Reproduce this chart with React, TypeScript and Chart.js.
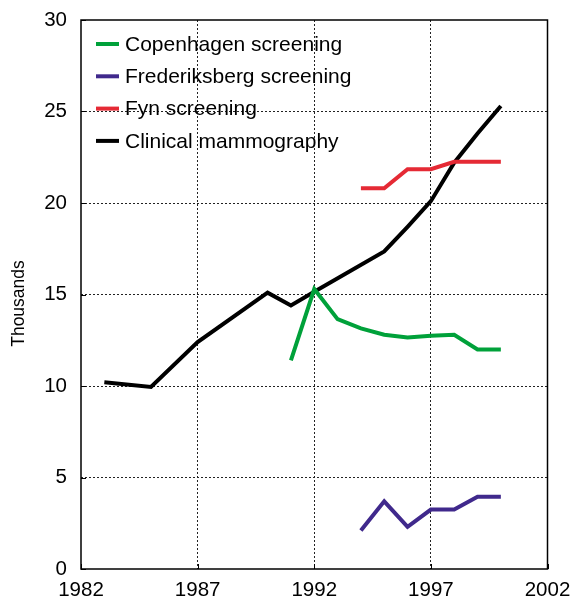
import React, { useEffect, useRef } from "react";
import { Chart, registerables } from "chart.js";

Chart.register(...registerables);

const xTicks = [1982, 1987, 1992, 1997, 2002];
const yTicks = [0, 5, 10, 15, 20, 25, 30];

const copenhagenYears = [1991, 1992, 1993, 1994, 1995, 1996, 1997, 1998, 1999, 2000];
const copenhagenValues = [11.4, 15.3, 13.65, 13.15, 12.8, 12.65, 12.75, 12.8, 12.0, 12.0];

const frederiksbergYears = [1994, 1995, 1996, 1997, 1998, 1999, 2000];
const frederiksbergValues = [2.1, 3.7, 2.3, 3.25, 3.25, 3.95, 3.95];

const fynYears = [1994, 1995, 1996, 1997, 1998, 1999, 2000];
const fynValues = [20.8, 20.8, 21.85, 21.85, 22.25, 22.25, 22.25];

const clinicalYears = [1983, 1985, 1987, 1990, 1991, 1992, 1995, 1996, 1997, 1998, 1999, 2000];
const clinicalValues = [10.2, 9.95, 12.4, 15.1, 14.4, 15.15, 17.35, 18.7, 20.1, 22.2, 23.8, 25.3];

const seriesLabels = [
  "Copenhagen screening",
  "Frederiksberg screening",
  "Fyn screening",
  "Clinical mammography",
];
const seriesColors = ["#00a13a", "#40298c", "#e52a35", "#000000"];
const yTitle = "Thousands";

const FONT = "'Liberation Sans', Arial, Helvetica, sans-serif";

function pts(xs: number[], ys: number[]) {
  return xs.map((x, i) => ({ x, y: ys[i] }));
}

export default function App() {
  const ref = useRef<HTMLCanvasElement>(null);

  useEffect(() => {
    if (!ref.current) return;

    const framePlugin = {
      id: "frame",
      afterDatasetsDraw(chart: any) {
        const { ctx, chartArea } = chart;
        const xs = chart.scales.x;
        const ys = chart.scales.y;
        ctx.save();
        // box
        ctx.strokeStyle = "#000";
        ctx.lineWidth = 1.5;
        ctx.setLineDash([]);
        ctx.strokeRect(chartArea.left, chartArea.top, chartArea.right - chartArea.left, chartArea.bottom - chartArea.top);
        // inward ticks
        ctx.lineWidth = 1;
        ctx.beginPath();
        xTicks.forEach((v) => {
          const px = Math.round(xs.getPixelForValue(v)) + 0.5;
          ctx.moveTo(px, chartArea.bottom);
          ctx.lineTo(px, chartArea.bottom - 5);
        });
        yTicks.forEach((v) => {
          const py = Math.round(ys.getPixelForValue(v)) + 0.5;
          ctx.moveTo(chartArea.left, py);
          ctx.lineTo(chartArea.left + 5, py);
        });
        ctx.stroke();

        // legend
        const lx = chartArea.left + 15;
        const ly = chartArea.top + 24;
        const step = 32.3;
        ctx.font = `21px ${FONT}`;
        ctx.textBaseline = "middle";
        ctx.textAlign = "left";
        seriesLabels.forEach((label, i) => {
          const y = ly + i * step;
          ctx.strokeStyle = seriesColors[i];
          ctx.lineWidth = 4;
          ctx.beginPath();
          ctx.moveTo(lx, y);
          ctx.lineTo(lx + 23, y);
          ctx.stroke();
          ctx.fillStyle = "#000";
          ctx.fillText(label, lx + 29, y + 1);
        });

        // y title
        ctx.save();
        ctx.translate(19, (chartArea.top + chartArea.bottom) / 2 + 9);
        ctx.rotate(-Math.PI / 2);
        ctx.font = `17.5px ${FONT}`;
        ctx.textAlign = "center";
        ctx.textBaseline = "middle";
        ctx.fillStyle = "#000";
        ctx.fillText(yTitle, 0, 0);
        ctx.restore();

        ctx.restore();
      },
    };

    const mk = (i: number, xs: number[], ys: number[]) => ({
      label: seriesLabels[i],
      data: pts(xs, ys),
      borderColor: seriesColors[i],
      backgroundColor: seriesColors[i],
      borderWidth: 4,
      pointRadius: 0,
      tension: 0,
      fill: false,
      borderJoinStyle: "miter" as const,
      borderCapStyle: "butt" as const,
    });

    const gridColor = (ctx: any, edges: number[]) =>
      edges.includes(ctx.tick?.value) ? "rgba(0,0,0,0)" : "#222";

    const chart = new Chart(ref.current, {
      type: "line",
      data: {
        datasets: [
          mk(0, copenhagenYears, copenhagenValues),
          mk(1, frederiksbergYears, frederiksbergValues),
          mk(2, fynYears, fynValues),
          mk(3, clinicalYears, clinicalValues),
        ],
      },
      options: {
        animation: false,
        responsive: false,
        maintainAspectRatio: false,
        layout: { padding: { left: 0, top: 20, right: 23.5, bottom: 0 } },
        plugins: {
          legend: { display: false },
          tooltip: { enabled: false },
          title: { display: false },
        },
        scales: {
          x: {
            type: "linear",
            min: 1982,
            max: 2002,
            afterBuildTicks: (s: any) => {
              s.ticks = xTicks.map((v) => ({ value: v }));
            },
            afterFit: (s: any) => {
              s.height = 32;
              s.paddingLeft = 0;
              s.paddingRight = 0;
            },
            ticks: {
              callback: (v: any) => String(v),
              color: "#000",
              font: { family: FONT, size: 20.5 },
              padding: 9,
              maxRotation: 0,
            },
            grid: {
              drawTicks: false,
              color: (ctx: any) => gridColor(ctx, [1982, 2002]),
              lineWidth: 1,
            },
            border: { display: false, dash: [2, 2] },
          },
          y: {
            type: "linear",
            min: 0,
            max: 30,
            afterBuildTicks: (s: any) => {
              s.ticks = yTicks.map((v) => ({ value: v }));
            },
            afterFit: (s: any) => {
              s.width = 81;
              s.paddingTop = 0;
              s.paddingBottom = 0;
            },
            ticks: {
              callback: (v: any) => String(v),
              color: "#000",
              font: { family: FONT, size: 20.5 },
              padding: 14,
            },
            grid: {
              drawTicks: false,
              color: (ctx: any) => gridColor(ctx, [0, 30]),
              lineWidth: 1,
            },
            border: { display: false, dash: [2, 2] },
          },
        },
      },
      plugins: [framePlugin],
    });

    return () => chart.destroy();
  }, []);

  return (
    <div style={{ position: "absolute", left: 0, top: 0, width: 571, height: 601, background: "#fff" }}>
      <canvas ref={ref} width={571} height={601} style={{ display: "block", width: 571, height: 601 }} />
    </div>
  );
}
